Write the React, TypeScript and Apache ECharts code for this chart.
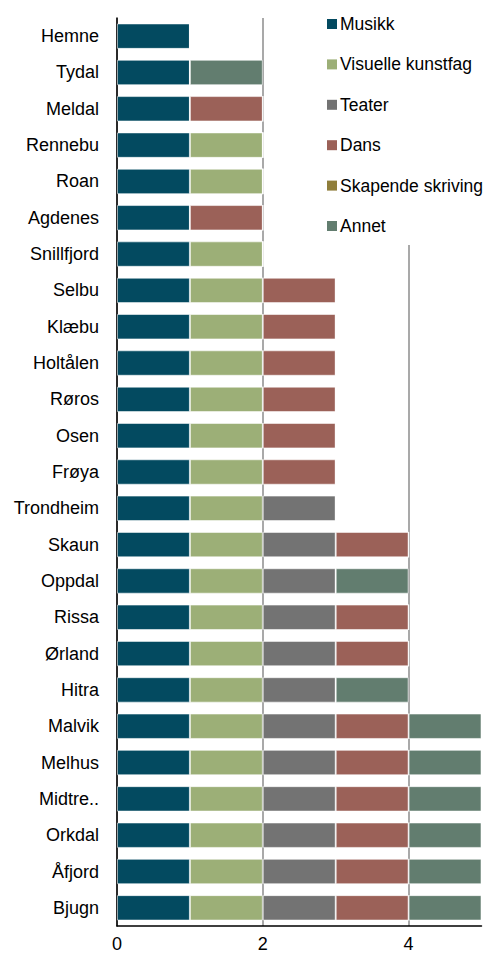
import React, { useEffect, useRef } from "react";
import * as echarts from "echarts";

const categories = [
  "Hemne", "Tydal", "Meldal", "Rennebu", "Roan", "Agdenes", "Snillfjord",
  "Selbu", "Klæbu", "Holtålen", "Røros", "Osen", "Frøya", "Trondheim",
  "Skaun", "Oppdal", "Rissa", "Ørland", "Hitra", "Malvik", "Melhus",
  "Midtre Gauldal", "Orkdal", "Åfjord", "Bjugn",
];

const musikk = [1,1,1,1,1,1,1,1,1,1,1,1,1,1,1,1,1,1,1,1,1,1,1,1,1];
const visuelle = [0,0,0,1,1,0,1,1,1,1,1,1,1,1,1,1,1,1,1,1,1,1,1,1,1];
const teater = [0,0,0,0,0,0,0,0,0,0,0,0,0,1,1,1,1,1,1,1,1,1,1,1,1];
const dans = [0,0,1,0,0,1,0,1,1,1,1,1,1,0,1,0,1,1,0,1,1,1,1,1,1];
const skapende = [0,0,0,0,0,0,0,0,0,0,0,0,0,0,0,0,0,0,0,0,0,0,0,0,0];
const annet = [0,1,0,0,0,0,0,0,0,0,0,0,0,0,0,1,0,0,1,1,1,1,1,1,1];

const seriesNames = ["Musikk", "Visuelle kunstfag", "Teater", "Dans", "Skapende skriving", "Annet"];
const seriesData = [musikk, visuelle, teater, dans, skapende, annet];
const colors = ["#034a60", "#9caf77", "#737373", "#9b6158", "#8f7e3b", "#627d6f"];

export default function App() {
  const ref = useRef<HTMLDivElement>(null);
  useEffect(() => {
    document.body.style.margin = "0";
    const chart = echarts.init(ref.current!, null, { renderer: "svg" });
    const font = "'Liberation Sans', Arial, sans-serif";
    chart.setOption({
      animation: false,
      color: colors,
      textStyle: { fontFamily: font },
      grid: { left: 117, right: 13.5, top: 18, bottom: 28, containLabel: false },
      legend: {
        orient: "vertical",
        left: 322,
        top: 10,
        itemWidth: 10,
        itemHeight: 10,
        itemGap: 22.4,
        itemStyle: { borderWidth: 0 },
        icon: "rect",
        backgroundColor: "#fff",
        padding: [5, 5, 10, 5],
        textStyle: { fontSize: 17.5, color: "#000", fontFamily: font, padding: [0, 0, 0, -2] },
        data: seriesNames,
      },
      xAxis: {
        type: "value",
        min: 0,
        max: 5,
        interval: 2,
        axisLine: { show: true, lineStyle: { color: "#000", width: 1.5 } },
        axisTick: { show: false },
        axisLabel: { fontSize: 18, color: "#000", margin: 9, fontFamily: font, showMaxLabel: false },
        splitLine: { show: true, showMaxLine: false, lineStyle: { color: "#8c8c8c", width: 1.5 } },
      },
      yAxis: {
        type: "category",
        data: categories,
        inverse: true,
        axisLine: { show: true, lineStyle: { color: "#000", width: 1.5 } },
        axisTick: { show: false },
        axisLabel: {
          fontSize: 18,
          color: "#000",
          margin: 18,
          fontFamily: font,
          formatter: (v: string) => (v.length > 12 ? v.slice(0, 6) + ".." : v),
        },
      },
      series: seriesNames.map((name, i) => ({
        name,
        type: "bar",
        stack: "total",
        data: seriesData[i],
        barCategoryGap: "30%",
        itemStyle: { borderColor: "rgba(255,255,255,0.55)", borderWidth: 1 },
      })),
    });
    return () => chart.dispose();
  }, []);
  return <div ref={ref} style={{ width: 495, height: 954 }} />;
}
